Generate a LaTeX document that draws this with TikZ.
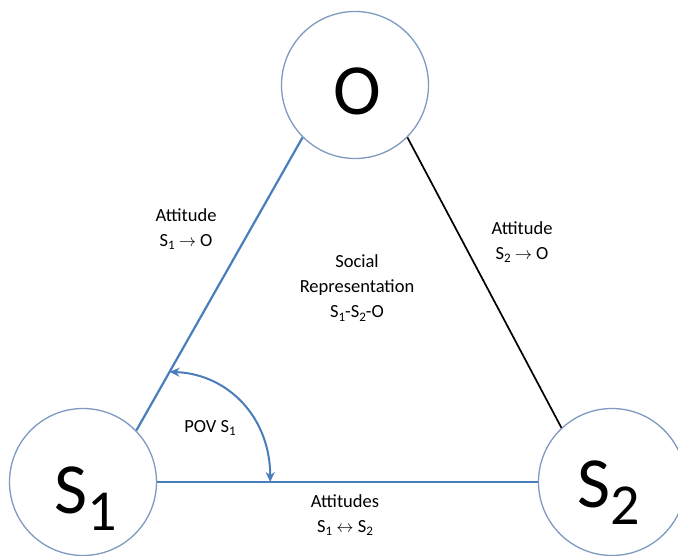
\documentclass[tikz,border=0pt]{standalone}
\usepackage{fontspec}
\setmainfont{Carlito}
\usetikzlibrary{arrows.meta,calc}
\definecolor{lineblue}{HTML}{4A7EBB}
\definecolor{ringblue}{HTML}{7F9AC0}
\tikzset{
  ring/.style={circle, draw=ringblue, line width=1.3pt, fill=white, minimum size=147pt, inner sep=0pt},
  bluelink/.style={draw=lineblue, line width=2.2pt},
  blacklink/.style={draw=black, line width=1.7pt},
  bigletter/.style={inner sep=0pt, font=\fontsize{72}{72}\selectfont},
  lbl/.style={align=center, inner sep=0pt, font=\fontsize{18.5}{25}\selectfont},
  povarrow/.style={draw=lineblue, line width=2pt, {Stealth[length=10pt,width=9pt]}-{Stealth[length=10pt,width=9pt]}}
}
\newcommand{\bigsub}[1]{\raisebox{-17pt}{\fontsize{58}{58}\selectfont #1}}
\newcommand{\smsub}[1]{\raisebox{-3.5pt}{\fontsize{13}{13}\selectfont #1}}
\begin{document}
\begin{tikzpicture}[x=1pt,y=-1pt]
\useasboundingbox (0,0) rectangle (678,556);
% circles
\node[ring] (O) at (355,85) {};
\node[ring] (S1) at (83,482) {};
\node[ring] (S2) at (612,482) {};
% connectors
\draw[bluelink] (S1.44) -- (O.225);
\draw[blacklink] (O.315) -- (S2.133);
\draw[bluelink] (S1.east) -- (S2.west);
% big letters
\node[bigletter, anchor=base] (tO) at (357,115) {O};
\node[bigletter, anchor=base west] (tS1) at (54,513) {S\bigsub{1}};
\node[bigletter, anchor=base west] (tS2) at (577,507) {S\bigsub{2}};
% POV arrow
\coordinate (p1) at ($(S1.44)!0.2!(O.225)$);
\coordinate (p2) at ($(S1.east)!0.297!(S2.west)$);
\draw[povarrow] (p1) .. controls +(58,2) and +(0,-65) .. (p2);
% labels
\node[lbl] (a1) at (186,229) {Attitude\\S\smsub{1} $\rightarrow$ O};
\node[lbl] (a2) at (522,242) {Attitude\\S\smsub{2} $\rightarrow$ O};
\node[lbl] (soc) at (357,288) {Social\\Representation\\S\smsub{1}-S\smsub{2}-O};
\node[lbl] (pov) at (210,428) {POV S\smsub{1}};
\node[lbl] (a3) at (345,515) {Attitudes\\S\smsub{1} $\leftrightarrow$\ S\smsub{2}};
\end{tikzpicture}
\end{document}
